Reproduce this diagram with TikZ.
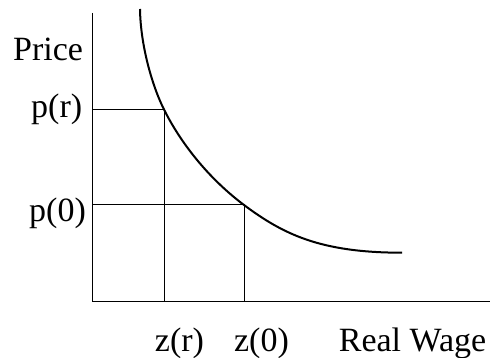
\documentclass[tikz,border=0pt]{standalone}
\usepackage{fontspec}
\setmainfont{Liberation Serif}
\begin{document}
\begin{tikzpicture}[x=1pt,y=-1pt,
  lbl/.style={inner sep=0pt,font=\fontsize{34}{40}\selectfont},
  axis/.style={line width=1pt},
  guide/.style={line width=1pt},
  curveline/.style={line width=2pt,line cap=butt}]
\useasboundingbox (0,0) rectangle (490,358);
% axes
\coordinate (O) at (92.5,301);
\coordinate (Ytop) at (92.5,13);
\coordinate (Xend) at (490,301);
\draw[axis] (Ytop) -- (O) -- (Xend);
% points on the curve
\coordinate (S) at (140,9);
\coordinate (A) at (164,109.5);
\coordinate (B) at (244,205);
\coordinate (E) at (402,252.7);
\coordinate (Ay) at (O |- A);
\coordinate (Ax) at (A |- O);
\coordinate (By) at (O |- B);
\coordinate (Bx) at (B |- O);
\draw[guide] (Ay) -- (A) -- (Ax);
\draw[guide] (By) -- (B) -- (Bx);
% curve
\draw[curveline] (S) .. controls (140.5,45) and (152,85.5) .. (A)
  .. controls (182.3,146.2) and (211.2,180.4) .. (B)
  .. controls (283,234) and (320,252.7) .. (E);
% labels
\node[lbl,anchor=base west] (price) at (13,61) {Price};
\node[lbl,anchor=base west] (pr) at (31,118) {p(r)};
\node[lbl,anchor=base west] (p0) at (29,222) {p(0)};
\node[lbl,anchor=base] (zr) at (179.5,351) {z(r)};
\node[lbl,anchor=base] (z0) at (261.5,351) {z(0)};
\node[lbl,anchor=base] (rw) at (412.5,351) {Real Wage};
\end{tikzpicture}
\end{document}
